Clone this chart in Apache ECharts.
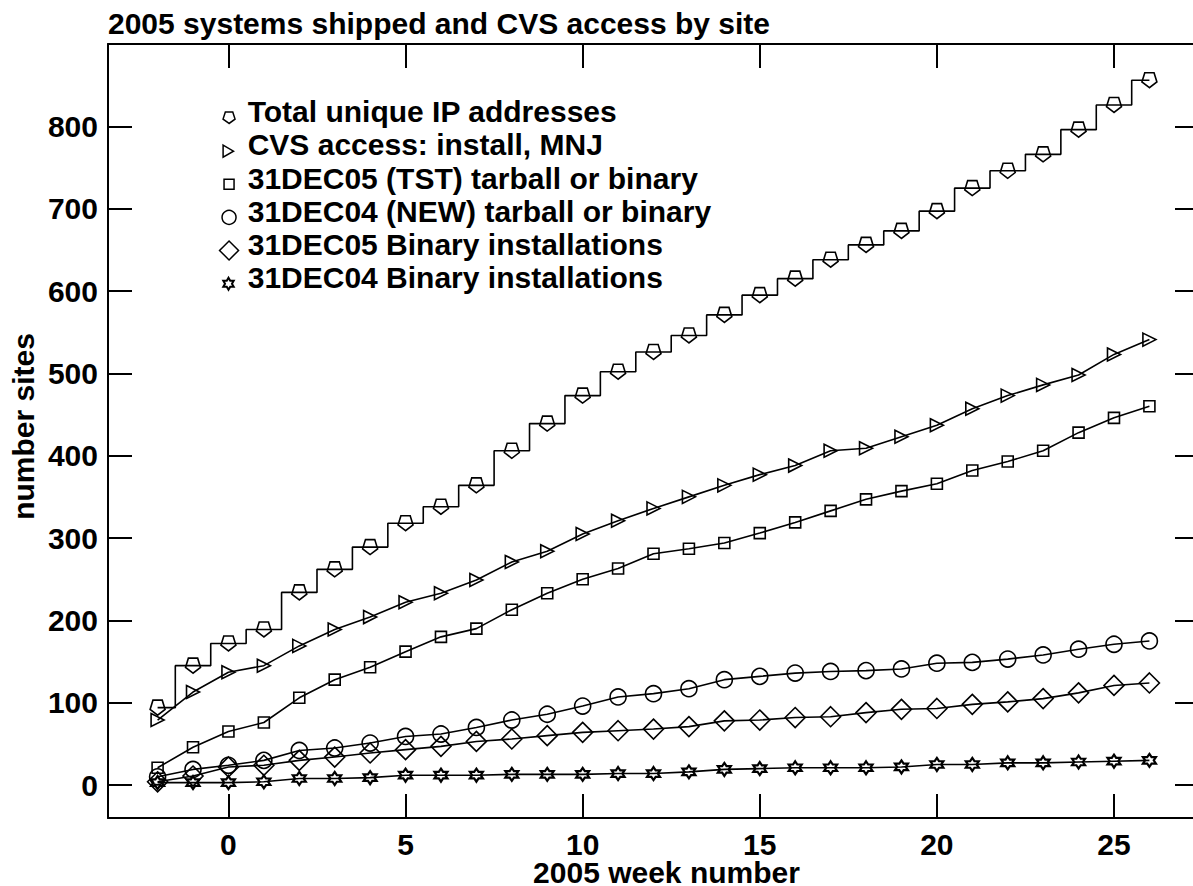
<!DOCTYPE html>
<html>
<head>
<meta charset="utf-8">
<title>2005 systems shipped and CVS access by site</title>
<script src="https://cdn.jsdelivr.net/npm/echarts@6/dist/echarts.min.js"></script>
<style>
  html, body { margin: 0; padding: 0; background: #fff; }
  #chart { width: 1193px; height: 886px; }
</style>
</head>
<body>
<div id="chart"></div>
<script>
// week numbers on the x axis
var weeks = [-2, -1, 0, 1, 2, 3, 4, 5, 6, 7, 8, 9, 10, 11, 12, 13, 14, 15, 16, 17, 18, 19, 20, 21, 22, 23, 24, 25, 26];

// series values (number of sites per week)
var totalIP = [94, 145, 172, 189, 234, 262, 289, 318, 338, 364, 406, 439, 473, 502, 526, 546, 571, 595, 615, 638, 656, 673, 697, 725, 746, 766, 796, 826, 856];
var cvsAccess = [79, 113, 137, 145, 169, 189, 204, 222, 233, 249, 271, 284, 305, 321, 336, 350, 364, 377, 388, 406, 409, 423, 437, 457, 473, 486, 498, 523, 541];
var tst05 = [21, 46, 65, 76, 106, 128, 143, 162, 180, 190, 213, 233, 250, 263, 281, 287, 294, 306, 319, 333, 347, 357, 366, 382, 393, 406, 428, 446, 460];
var new04 = [10, 19, 24, 30, 42, 45, 51, 59, 62, 70, 79, 86, 96, 107, 111, 117, 128, 132, 136, 138, 139, 141, 148, 149, 153, 158, 165, 171, 175];
var bin05 = [4, 11, 22, 24, 30, 34, 39, 43, 47, 53, 56, 60, 64, 66, 68, 71, 78, 79, 82, 83, 88, 92, 93, 98, 101, 105, 112, 121, 124];
var bin04 = [3, 3, 3, 4, 8, 8, 9, 12, 12, 12, 13, 13, 13, 14, 14, 16, 19, 20, 21, 21, 21, 22, 25, 25, 27, 27, 28, 29, 30];

var seriesNames = [
  'Total unique IP addresses',
  'CVS access: install, MNJ',
  '31DEC05 (TST) tarball or binary',
  '31DEC04 (NEW) tarball or binary',
  '31DEC05 Binary installations',
  '31DEC04 Binary installations'
];

// tick labels
var xTicks = [0, 5, 10, 15, 20, 25];
var yTicks = [0, 100, 200, 300, 400, 500, 600, 700, 800];

(function() {
  var font = '"Liberation Sans", Arial, Helvetica, sans-serif';
  var ink = '#000';
  var fontSize = 30;

  var pentagon = 'path://M10,20L0.49,13.09L4.12,1.91L15.88,1.91L19.51,13.09Z';
  var triRight = 'path://M0,0L13,7.5L0,15Z';
  var hexagram = 'path://M10,0L12.89,5L18.66,5L15.77,10L18.66,15L12.89,15L10,20L7.11,15L1.34,15L4.23,10L1.34,5L7.11,5Z';

  var symbols = [pentagon, triRight, 'rect', 'circle', 'diamond', hexagram];
  var symbolSizes = [15, 13, 11, 16, 20, 13];
  var legendSizes = [12, 12, 10, 14, 19, 12];
  var values = [totalIP, cvsAccess, tst05, new04, bin05, bin04];

  function pairs(vals) {
    return weeks.map(function(w, i) { return [w, vals[i]]; });
  }

  var series = values.map(function(vals, i) {
    return {
      name: seriesNames[i],
      type: 'line',
      step: i === 0 ? 'middle' : false,
      data: pairs(vals),
      symbol: symbols[i],
      symbolSize: symbolSizes[i],
      showAllSymbol: true,
      lineStyle: { color: ink, width: 1.6 },
      itemStyle: { color: 'transparent', borderColor: ink, borderWidth: i === 5 ? 2.2 : 1.6 },
      emphasis: { disabled: true },
      z: 3 + i
    };
  });

  // legend: icons and texts are placed as two legends per row,
  // because the reference draws each symbol a little below its text
  var textStyle = { color: ink, fontSize: fontSize, fontWeight: 'bold', fontFamily: font };
  var legends = [];
  seriesNames.forEach(function(name, i) {
    var s = legendSizes[i];
    var iconY = 117.3 + 33.1 * i;
    var textY = 111.7 + 33.2 * i;
    legends.push({
      data: [{ name: name, icon: symbols[i] }],
      left: 228.3 - s / 2,
      top: iconY - s / 2,
      padding: 0,
      itemWidth: s,
      itemHeight: s,
      selectedMode: false,
      formatter: function() { return ''; },
      itemStyle: { color: 'transparent', borderColor: ink, borderWidth: i === 5 ? 2 : 1.5 },
      textStyle: { fontSize: 1 }
    });
    legends.push({
      data: [{ name: name, icon: 'rect' }],
      left: 240.7,
      top: textY - fontSize / 2,
      padding: 0,
      itemWidth: 1,
      itemHeight: 1,
      selectedMode: false,
      itemStyle: { opacity: 0 },
      textStyle: textStyle
    });
  });

  var tightText = Object.assign({ lineHeight: 22 }, textStyle);
  var frameLine = { show: true, onZero: false, lineStyle: { color: ink, width: 2 } };
  var tick = function(vals) {
    return { show: true, inside: true, length: 24, customValues: vals, lineStyle: { color: ink, width: 2 } };
  };

  var chart = echarts.init(document.getElementById('chart'), null, { renderer: 'svg' });
  chart.setOption({
    animation: false,
    backgroundColor: '#fff',
    title: {
      text: '2005 systems shipped and CVS access by site',
      left: 108,
      top: 8,
      padding: 0,
      textStyle: textStyle
    },
    legend: legends,
    grid: { left: 108, right: -6, top: 44, bottom: 68, containLabel: false, outerBoundsMode: 'none' },
    xAxis: [{
      type: 'value',
      position: 'bottom',
      min: -3.4, max: 27.4,
      name: '2005 week number',
      nameLocation: 'middle',
      nameGap: 43,
      nameMoveOverlap: false,
      nameTextStyle: Object.assign({ padding: [0, 0, 0, 26] }, tightText),
      axisLine: frameLine,
      axisTick: tick(xTicks),
      axisLabel: Object.assign({ customValues: xTicks, margin: 15 }, tightText),
      splitLine: { show: false }
    }, {
      type: 'value',
      position: 'top',
      min: -3.4, max: 27.4,
      axisLine: frameLine,
      axisTick: tick(xTicks),
      axisLabel: { show: false },
      splitLine: { show: false }
    }],
    yAxis: [{
      type: 'value',
      position: 'left',
      min: -40, max: 900,
      name: 'number sites',
      nameLocation: 'middle',
      nameGap: 70,
      nameMoveOverlap: false,
      nameTextStyle: Object.assign({ padding: [0, 0, 0, 9] }, textStyle),
      axisLine: frameLine,
      axisTick: tick(yTicks),
      axisLabel: Object.assign({ customValues: yTicks, margin: 10 }, textStyle),
      splitLine: { show: false }
    }, {
      type: 'value',
      position: 'right',
      min: -40, max: 900,
      axisLine: { show: false, onZero: false },
      axisTick: tick(yTicks),
      axisLabel: { show: false },
      splitLine: { show: false }
    }],
    series: series
  });
  window.addEventListener('resize', function() { chart.resize(); });
})();
</script>
</body>
</html>
